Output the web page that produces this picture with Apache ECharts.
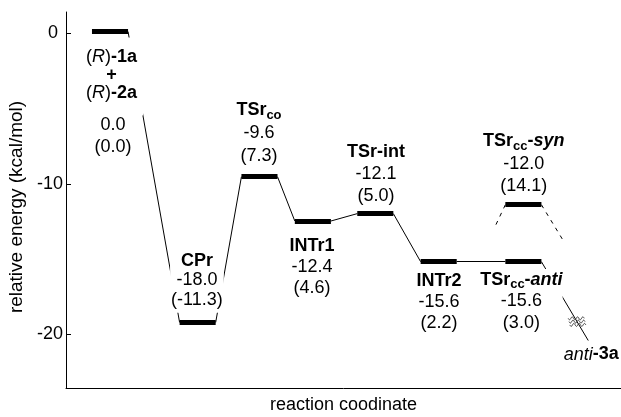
<!DOCTYPE html>
<html><head><meta charset="utf-8">
<script src="https://cdn.jsdelivr.net/npm/echarts@6/dist/echarts.min.js"></script>
<style>html,body{margin:0;padding:0;background:#fff}#c{width:621px;height:417px}</style>
</head><body><div id="c"></div>
<script>
// ---- data ----
const states = ['(R)-1a + (R)-2a', 'CPr', 'TSrco', 'INTr1', 'TSr-int', 'INTr2', 'TSrcc-anti', 'TSrcc-syn'];
const barX = [0.793, 2.372, 3.486, 4.448, 5.573, 6.715, 8.241, 8.241];
const barY = [0.1, -19.2, -9.53, -12.47, -11.98, -15.17, -15.17, -11.39];
const energyE = ['0.0', '-18.0', '-9.6', '-12.4', '-12.1', '-15.6', '-15.6', '-12.0'];
const energyG = ['(0.0)', '(-11.3)', '(7.3)', '(4.6)', '(5.0)', '(2.2)', '(3.0)', '(14.1)'];
const solidLinks = [[0, 1], [1, 2], [2, 3], [3, 4], [4, 5], [5, 6]];
const productName = 'anti-3a';
const productPoint = [9.41, -20.4];
const synStubEnds = [[7.73, -12.84], [8.95, -13.71]];
const yTicks = [0, -10, -20];
const yTickLabels = ['0 ', '-10', '-20'];
const xTitle = 'reaction coodinate';
const yTitle = 'relative energy (kcal/mol)';

// ---- layout / style ----
const FONT = '"Liberation Sans", Arial, Helvetica, sans-serif';
const HALF = 0.325;
const FS = 18;
function rich(lh) {
  const base = {fontSize: FS, fontFamily: FONT, fill: '#000', lineHeight: lh};
  return {
    n: Object.assign({}, base),
    b: Object.assign({}, base, {fontWeight: 'bold'}),
    i: Object.assign({}, base, {fontStyle: 'italic'}),
    bi: Object.assign({}, base, {fontWeight: 'bold', fontStyle: 'italic'}),
    s: {fontSize: 13, fontFamily: FONT, fill: '#000', fontWeight: 'bold', lineHeight: 13, verticalAlign: 'bottom'}
  };
}
const nameRich = [
  '{n|(}{i|R}{n|)}{b|-1a}\n{b|+}\n{n|(}{i|R}{n|)}{b|-2a}',
  '{b|CPr}',
  '{b|TSr}{s|co}',
  '{b|INTr1}',
  '{b|TSr-int}',
  '{b|INTr2}',
  '{b|TSr}{s|cc}{b|-}{bi|anti}',
  '{b|TSr}{s|cc}{b|-}{bi|syn}'
];
const valText = i => '{n|' + energyE[i] + '}\n{n|' + energyG[i] + '}';
// label blocks: [anchor point, text, offset px, line height, padding, white box]
const blocks = [
  [0, nameRich[0], [2, 45], 18, [10, 6, 14, 5], true],
  [0, valText(0), [3, 104.3], 22, 0, true],
  [1, nameRich[1] + '\n' + valText(1), [-0.7, -40.5], 19.5, [0, 1, 3, 1], true],
  [2, nameRich[2] + '\n' + valText(2), [-0.5, -43.7], 23, 0, true],
  [3, nameRich[3] + '\n' + valText(3), [-0.8, 46], 21, 0, true],
  [4, nameRich[4] + '\n' + valText(4), [0.7, -39.3], 22, 0, true],
  [5, nameRich[5] + '\n' + valText(5), [0.3, 40.5], 21, 0, true],
  [6, nameRich[6] + '\n' + valText(6), [-2, 39.5], 21.5, [0, 0, 0, 0], true],
  [7, nameRich[7] + '\n' + valText(7), [0.3, -40.8], 22.5, 0, true],
  [-1, '{i|anti}{b|-3a}', [3, 14], 22, 0, false]
];
const labelData = blocks.map((b, k) => {
  const p = b[0] >= 0 ? [barX[b[0]], barY[b[0]]] : productPoint;
  return [p[0], p[1], k];
});

const barLines = barX.map((x, i) => ({coords: [[x - HALF, barY[i]], [x + HALF, barY[i]]]}));
const linkLines = solidLinks.map(([a, b]) => ({coords: [[barX[a] + HALF, barY[a]], [barX[b] - HALF, barY[b]]]}));
const tailStart = [barX[6] + HALF, barY[6]];
linkLines.push({coords: [tailStart, productPoint]});
const dashLines = [
  {coords: [[barX[7] - HALF, barY[7]], synStubEnds[0]]},
  {coords: [[barX[7] + HALF, barY[7]], synStubEnds[1]]}
];
const f = 0.76;
const squigglePos = [tailStart[0] + f * (productPoint[0] - tailStart[0]), tailStart[1] + f * (productPoint[1] - tailStart[1])];

const chart = echarts.init(document.getElementById('c'), null, {renderer: 'canvas'});
chart.setOption({
  animation: false,
  backgroundColor: '#fff',
  grid: {left: 66, right: 0, top: 12, bottom: 29, containLabel: false, outerBoundsMode: 'none'},
  xAxis: {
    type: 'value', min: 0, max: 10,
    axisLine: {show: true, onZero: false, lineStyle: {color: '#000', width: 1}},
    axisTick: {show: false}, axisLabel: {show: false}, splitLine: {show: false},
    name: xTitle, nameLocation: 'middle', nameGap: 8,
    nameTextStyle: {fontFamily: FONT, fontSize: 18, color: '#000'}
  },
  yAxis: {
    type: 'value', min: -23.55, max: 1.4,
    axisLine: {show: true, onZero: false, lineStyle: {color: '#000', width: 1}},
    axisTick: {show: true, inside: true, length: 5, customValues: yTicks, lineStyle: {color: '#000'}},
    axisLabel: {show: true, customValues: yTicks, margin: 3, fontFamily: FONT, fontSize: 18, color: '#000',
      formatter: v => yTickLabels[yTicks.indexOf(v)] !== undefined ? yTickLabels[yTicks.indexOf(v)] : ''},
    splitLine: {show: false},
    name: yTitle, nameLocation: 'middle', nameGap: 32, nameRotate: 90,
    nameTextStyle: {fontFamily: FONT, fontSize: 19, color: '#000', padding: [0, 14, 0, 0]}
  },
  series: [
    {type: 'lines', coordinateSystem: 'cartesian2d', silent: true, z: 2, data: linkLines,
      lineStyle: {color: '#000', width: 1, opacity: 1}},
    {type: 'lines', coordinateSystem: 'cartesian2d', silent: true, z: 2, data: dashLines,
      lineStyle: {color: '#000', width: 1, type: [4, 5], opacity: 1}},
    {type: 'lines', coordinateSystem: 'cartesian2d', silent: true, z: 3, data: barLines,
      lineStyle: {color: '#000', width: 5, cap: 'butt', opacity: 1}},
    {type: 'custom', coordinateSystem: 'cartesian2d', silent: true, z: 4, data: [squigglePos],
      renderItem: function (params, api) {
        const p = api.coord([api.value(0), api.value(1)]);
        const children = [];
        for (let k = 0; k < 3; k++) {
          const pts = [];
          for (let t = 0; t <= 32; t++) {
            const x = -8 + t * 0.5;
            pts.push([p[0] + x + (k - 1) * 0.8, p[1] + (k - 1) * 3.3 + 1.5 * Math.sin((x + 8) / 16 * 3 * 2 * Math.PI)]);
          }
          children.push({type: 'polyline', shape: {points: pts}, style: {stroke: '#333', lineWidth: 0.9, fill: null}});
        }
        return {type: 'group', children: children};
      }},
    {type: 'custom', coordinateSystem: 'cartesian2d', silent: true, z: 10, data: labelData,
      renderItem: function (params, api) {
        const b = blocks[api.value(2)];
        const p = api.coord([api.value(0), api.value(1)]);
        return {
          type: 'text', x: p[0] + b[2][0], y: p[1] + b[2][1], z2: 100,
          style: {
            text: b[1], rich: rich(b[3]), align: 'center', verticalAlign: 'middle',
            backgroundColor: b[5] ? '#fff' : null, padding: b[4],
            fontFamily: FONT, fontSize: FS, fill: '#000'
          }
        };
      }}
  ]
});
</script></body></html>
